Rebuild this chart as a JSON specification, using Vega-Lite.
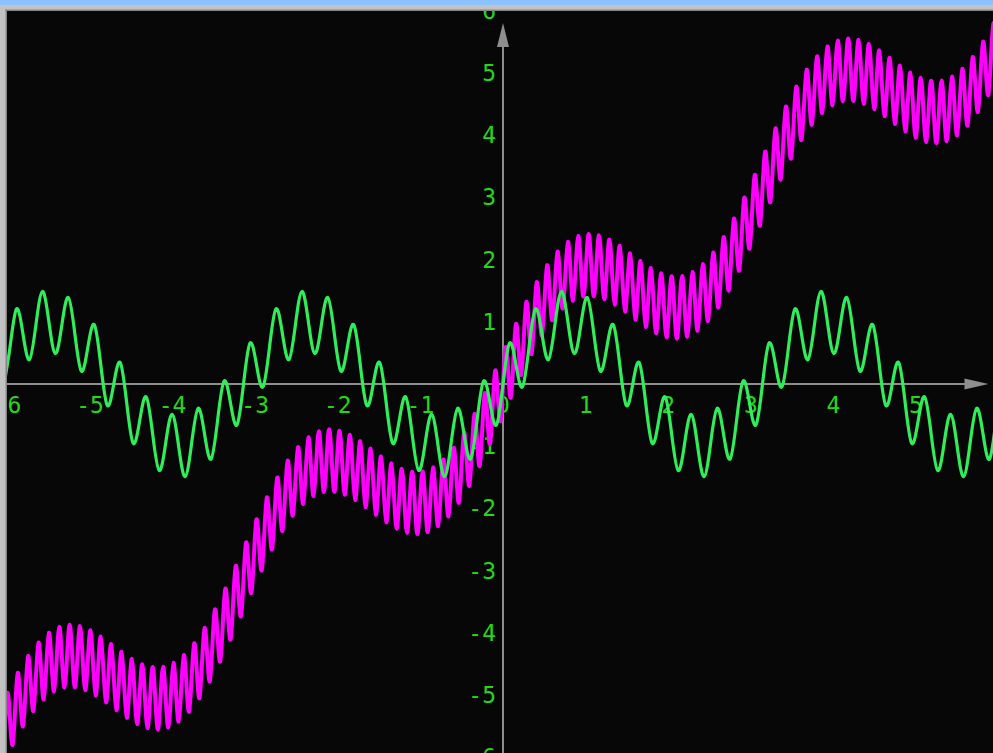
{
"$schema": "https://vega.github.io/schema/vega-lite/v6.json",
"width": 986,
"height": 742,
"autosize": "none",
"padding": {"left": 7, "top": 11, "right": 0, "bottom": 0},
"background": "#c2c2c2",
"config": {"view": {"stroke": null, "fill": "#070707"}},
"datasets": {
"one": [{}],
"xt": [{"v":-6,"t":"-6"},{"v":-5,"t":"-5"},{"v":-4,"t":"-4"},{"v":-3,"t":"-3"},{"v":-2,"t":"-2"},{"v":-1,"t":"-1"},{"v":0,"t":"0"},{"v":1,"t":"1"},{"v":2,"t":"2"},{"v":3,"t":"3"},{"v":4,"t":"4"},{"v":5,"t":"5"}],
"yt": [{"v":6,"t":"6"},{"v":5,"t":"5"},{"v":4,"t":"4"},{"v":3,"t":"3"},{"v":2,"t":"2"},{"v":1,"t":"1"},{"v":-1,"t":"-1"},{"v":-2,"t":"-2"},{"v":-3,"t":"-3"},{"v":-4,"t":"-4"},{"v":-5,"t":"-5"},{"v":-6,"t":"-6"}],
"grn": [
{"x":-6.0476,"y":-0.046},{"x":-5.969,"y":0.588},{"x":-5.8905,"y":1.207},{"x":-5.8119,"y":0.809},{"x":-5.7334,"y":0.391},{"x":-5.6549,"y":0.951},{"x":-5.5763,"y":1.488},{"x":-5.4978,"y":1},{"x":-5.4192,"y":0.488},{"x":-5.3407,"y":0.951},{"x":-5.2622,"y":1.391},{"x":-5.1836,"y":0.809},{"x":-5.1051,"y":0.207},{"x":-5.0265,"y":0.588},{"x":-4.948,"y":0.954},{"x":-4.8695,"y":0.309},{"x":-4.7909,"y":-0.344},{"x":-4.7124,"y":0},{"x":-4.6338,"y":0.344},{"x":-4.5553,"y":-0.309},{"x":-4.4768,"y":-0.954},{"x":-4.3982,"y":-0.588},{"x":-4.3197,"y":-0.207},{"x":-4.2412,"y":-0.809},{"x":-4.1626,"y":-1.391},{"x":-4.0841,"y":-0.951},{"x":-4.0055,"y":-0.488},{"x":-3.927,"y":-1},{"x":-3.8485,"y":-1.488},{"x":-3.7699,"y":-0.951},{"x":-3.6914,"y":-0.391},{"x":-3.6128,"y":-0.809},{"x":-3.5343,"y":-1.207},{"x":-3.4558,"y":-0.588},{"x":-3.3772,"y":0.046},{"x":-3.2987,"y":-0.309},{"x":-3.2201,"y":-0.656},{"x":-3.1416,"y":0},
{"x":-3.0631,"y":0.656},{"x":-2.9845,"y":0.309},{"x":-2.906,"y":-0.046},{"x":-2.8274,"y":0.588},{"x":-2.7489,"y":1.207},{"x":-2.6704,"y":0.809},{"x":-2.5918,"y":0.391},{"x":-2.5133,"y":0.951},{"x":-2.4347,"y":1.488},{"x":-2.3562,"y":1},{"x":-2.2777,"y":0.488},{"x":-2.1991,"y":0.951},{"x":-2.1206,"y":1.391},{"x":-2.042,"y":0.809},{"x":-1.9635,"y":0.207},{"x":-1.885,"y":0.588},{"x":-1.8064,"y":0.954},{"x":-1.7279,"y":0.309},{"x":-1.6493,"y":-0.344},{"x":-1.5708,"y":0},{"x":-1.4923,"y":0.344},{"x":-1.4137,"y":-0.309},{"x":-1.3352,"y":-0.954},{"x":-1.2566,"y":-0.588},{"x":-1.1781,"y":-0.207},{"x":-1.0996,"y":-0.809},{"x":-1.021,"y":-1.391},{"x":-0.9425,"y":-0.951},{"x":-0.8639,"y":-0.488},{"x":-0.7854,"y":-1},{"x":-0.7069,"y":-1.488},{"x":-0.6283,"y":-0.951},{"x":-0.5498,"y":-0.391},{"x":-0.4712,"y":-0.809},{"x":-0.3927,"y":-1.207},{"x":-0.3142,"y":-0.588},{"x":-0.2356,"y":0.046},{"x":-0.1571,"y":-0.309},{"x":-0.0785,"y":-0.656},
{"x":0,"y":0},{"x":0.0785,"y":0.656},{"x":0.1571,"y":0.309},{"x":0.2356,"y":-0.046},{"x":0.3142,"y":0.588},{"x":0.3927,"y":1.207},{"x":0.4712,"y":0.809},{"x":0.5498,"y":0.391},{"x":0.6283,"y":0.951},{"x":0.7069,"y":1.488},{"x":0.7854,"y":1},{"x":0.8639,"y":0.488},{"x":0.9425,"y":0.951},{"x":1.021,"y":1.391},{"x":1.0996,"y":0.809},{"x":1.1781,"y":0.207},{"x":1.2566,"y":0.588},{"x":1.3352,"y":0.954},{"x":1.4137,"y":0.309},{"x":1.4923,"y":-0.344},{"x":1.5708,"y":0},{"x":1.6493,"y":0.344},{"x":1.7279,"y":-0.309},{"x":1.8064,"y":-0.954},{"x":1.885,"y":-0.588},{"x":1.9635,"y":-0.207},{"x":2.042,"y":-0.809},{"x":2.1206,"y":-1.391},{"x":2.1991,"y":-0.951},{"x":2.2777,"y":-0.488},{"x":2.3562,"y":-1},{"x":2.4347,"y":-1.488},{"x":2.5133,"y":-0.951},{"x":2.5918,"y":-0.391},{"x":2.6704,"y":-0.809},{"x":2.7489,"y":-1.207},{"x":2.8274,"y":-0.588},{"x":2.906,"y":0.046},{"x":2.9845,"y":-0.309},{"x":3.0631,"y":-0.656},
{"x":3.1416,"y":0},{"x":3.2201,"y":0.656},{"x":3.2987,"y":0.309},{"x":3.3772,"y":-0.046},{"x":3.4558,"y":0.588},{"x":3.5343,"y":1.207},{"x":3.6128,"y":0.809},{"x":3.6914,"y":0.391},{"x":3.7699,"y":0.951},{"x":3.8485,"y":1.488},{"x":3.927,"y":1},{"x":4.0055,"y":0.488},{"x":4.0841,"y":0.951},{"x":4.1626,"y":1.391},{"x":4.2412,"y":0.809},{"x":4.3197,"y":0.207},{"x":4.3982,"y":0.588},{"x":4.4768,"y":0.954},{"x":4.5553,"y":0.309},{"x":4.6338,"y":-0.344},{"x":4.7124,"y":0},{"x":4.7909,"y":0.344},{"x":4.8695,"y":-0.309},{"x":4.948,"y":-0.954},{"x":5.0265,"y":-0.588},{"x":5.1051,"y":-0.207},{"x":5.1836,"y":-0.809},{"x":5.2622,"y":-1.391},{"x":5.3407,"y":-0.951},{"x":5.4192,"y":-0.488},{"x":5.4978,"y":-1},{"x":5.5763,"y":-1.488},{"x":5.6549,"y":-0.951},{"x":5.7334,"y":-0.391},{"x":5.8119,"y":-0.809},{"x":5.8905,"y":-1.207},{"x":5.969,"y":-0.588},{"x":6.0476,"y":0.046}
],
"mag": [
{"x":-6.0319,"y":-5.551},{"x":-6.0004,"y":-4.965},{"x":-5.969,"y":-5.382},{"x":-5.9376,"y":-5.801},{"x":-5.9062,"y":-5.222},{"x":-5.8748,"y":-4.646},{"x":-5.8434,"y":-5.073},{"x":-5.8119,"y":-5.503},{"x":-5.7805,"y":-4.937},{"x":-5.7491,"y":-4.373},{"x":-5.7177,"y":-4.813},{"x":-5.6863,"y":-5.257},{"x":-5.6549,"y":-4.704},{"x":-5.6235,"y":-4.155},{"x":-5.592,"y":-4.61},{"x":-5.5606,"y":-5.069},{"x":-5.5292,"y":-4.532},{"x":-5.4978,"y":-3.998},{"x":-5.4664,"y":-4.469},{"x":-5.435,"y":-4.943},{"x":-5.4035,"y":-4.422},{"x":-5.3721,"y":-3.904},{"x":-5.3407,"y":-4.39},{"x":-5.3093,"y":-4.88},{"x":-5.2779,"y":-4.374},{"x":-5.2465,"y":-3.871},{"x":-5.215,"y":-4.371},{"x":-5.1836,"y":-4.875},{"x":-5.1522,"y":-4.382},{"x":-5.1208,"y":-3.892},{"x":-5.0894,"y":-4.405},{"x":-5.058,"y":-4.921},{"x":-5.0265,"y":-4.439},{"x":-4.9951,"y":-3.96},{"x":-4.9637,"y":-4.482},{"x":-4.9323,"y":-5.007},{"x":-4.9009,"y":-4.533},{"x":-4.8695,"y":-4.061},{"x":-4.8381,"y":-4.59},{"x":-4.8066,"y":-5.12},{"x":-4.7752,"y":-4.65},{"x":-4.7438,"y":-4.181},{"x":-4.7124,"y":-4.713},{"x":-4.681,"y":-5.244},{"x":-4.6496,"y":-4.775},{"x":-4.6181,"y":-4.306},{"x":-4.5867,"y":-4.836},{"x":-4.5553,"y":-5.365},{"x":-4.5239,"y":-4.892},{"x":-4.4925,"y":-4.419},{"x":-4.4611,"y":-4.943},{"x":-4.4297,"y":-5.466},{"x":-4.3982,"y":-4.986},{"x":-4.3668,"y":-4.505},{"x":-4.3354,"y":-5.02},{"x":-4.304,"y":-5.533},{"x":-4.2726,"y":-5.044},{"x":-4.2412,"y":-4.551},{"x":-4.2097,"y":-5.054},{"x":-4.1783,"y":-5.555},{"x":-4.1469,"y":-5.052},{"x":-4.1155,"y":-4.546},{"x":-4.0841,"y":-5.036},{"x":-4.0527,"y":-5.522},{"x":-4.0212,"y":-5.004},{"x":-3.9898,"y":-4.482},{"x":-3.9584,"y":-4.957},{"x":-3.927,"y":-5.427},{"x":-3.8956,"y":-4.894},{"x":-3.8642,"y":-4.357},{"x":-3.8328,"y":-4.816},{"x":-3.8013,"y":-5.27},{"x":-3.7699,"y":-4.721},{"x":-3.7385,"y":-4.169},{"x":-3.7071,"y":-4.612},{"x":-3.6757,"y":-5.052},{"x":-3.6443,"y":-4.489},{"x":-3.6128,"y":-3.922},{"x":-3.5814,"y":-4.352},{"x":-3.55,"y":-4.779},{"x":-3.5186,"y":-4.204},{"x":-3.4872,"y":-3.625},{"x":-3.4558,"y":-4.044},{"x":-3.4243,"y":-4.461},{"x":-3.3929,"y":-3.875},{"x":-3.3615,"y":-3.288},{"x":-3.3301,"y":-3.699},{"x":-3.2987,"y":-4.108},{"x":-3.2673,"y":-3.516},{"x":-3.2358,"y":-2.924},{"x":-3.2044,"y":-3.33},{"x":-3.173,"y":-3.736},{"x":-3.1416,"y":-3.142},
{"x":-3.1102,"y":-2.547},{"x":-3.0788,"y":-2.954},{"x":-3.0473,"y":-3.36},{"x":-3.0159,"y":-2.767},{"x":-2.9845,"y":-2.176},{"x":-2.9531,"y":-2.585},{"x":-2.9217,"y":-2.996},{"x":-2.8903,"y":-2.409},{"x":-2.8588,"y":-1.823},{"x":-2.8274,"y":-2.24},{"x":-2.796,"y":-2.659},{"x":-2.7646,"y":-2.08},{"x":-2.7332,"y":-1.504},{"x":-2.7018,"y":-1.931},{"x":-2.6704,"y":-2.361},{"x":-2.6389,"y":-1.795},{"x":-2.6075,"y":-1.231},{"x":-2.5761,"y":-1.671},{"x":-2.5447,"y":-2.115},{"x":-2.5133,"y":-1.562},{"x":-2.4819,"y":-1.013},{"x":-2.4504,"y":-1.468},{"x":-2.419,"y":-1.927},{"x":-2.3876,"y":-1.39},{"x":-2.3562,"y":-0.856},{"x":-2.3248,"y":-1.327},{"x":-2.2934,"y":-1.801},{"x":-2.2619,"y":-1.28},{"x":-2.2305,"y":-0.762},{"x":-2.1991,"y":-1.248},{"x":-2.1677,"y":-1.738},{"x":-2.1363,"y":-1.232},{"x":-2.1049,"y":-0.729},{"x":-2.0735,"y":-1.229},{"x":-2.042,"y":-1.733},{"x":-2.0106,"y":-1.24},{"x":-1.9792,"y":-0.75},{"x":-1.9478,"y":-1.263},{"x":-1.9164,"y":-1.779},{"x":-1.885,"y":-1.297},{"x":-1.8535,"y":-0.818},{"x":-1.8221,"y":-1.34},{"x":-1.7907,"y":-1.865},{"x":-1.7593,"y":-1.391},{"x":-1.7279,"y":-0.919},{"x":-1.6965,"y":-1.448},{"x":-1.665,"y":-1.978},{"x":-1.6336,"y":-1.508},{"x":-1.6022,"y":-1.039},{"x":-1.5708,"y":-1.571},{"x":-1.5394,"y":-2.102},{"x":-1.508,"y":-1.633},{"x":-1.4765,"y":-1.164},{"x":-1.4451,"y":-1.694},{"x":-1.4137,"y":-2.223},{"x":-1.3823,"y":-1.75},{"x":-1.3509,"y":-1.277},{"x":-1.3195,"y":-1.801},{"x":-1.2881,"y":-2.324},{"x":-1.2566,"y":-1.844},{"x":-1.2252,"y":-1.363},{"x":-1.1938,"y":-1.878},{"x":-1.1624,"y":-2.391},{"x":-1.131,"y":-1.902},{"x":-1.0996,"y":-1.409},{"x":-1.0681,"y":-1.912},{"x":-1.0367,"y":-2.413},{"x":-1.0053,"y":-1.91},{"x":-0.9739,"y":-1.404},{"x":-0.9425,"y":-1.894},{"x":-0.9111,"y":-2.38},{"x":-0.8796,"y":-1.862},{"x":-0.8482,"y":-1.34},{"x":-0.8168,"y":-1.815},{"x":-0.7854,"y":-2.285},{"x":-0.754,"y":-1.752},{"x":-0.7226,"y":-1.215},{"x":-0.6912,"y":-1.674},{"x":-0.6597,"y":-2.128},{"x":-0.6283,"y":-1.579},{"x":-0.5969,"y":-1.027},{"x":-0.5655,"y":-1.47},{"x":-0.5341,"y":-1.91},{"x":-0.5027,"y":-1.347},{"x":-0.4712,"y":-0.78},{"x":-0.4398,"y":-1.21},{"x":-0.4084,"y":-1.637},{"x":-0.377,"y":-1.062},{"x":-0.3456,"y":-0.483},{"x":-0.3142,"y":-0.902},{"x":-0.2827,"y":-1.319},{"x":-0.2513,"y":-0.733},{"x":-0.2199,"y":-0.146},{"x":-0.1885,"y":-0.557},{"x":-0.1571,"y":-0.966},{"x":-0.1257,"y":-0.374},{"x":-0.0942,"y":0.218},{"x":-0.0628,"y":-0.188},{"x":-0.0314,"y":-0.594},
{"x":0,"y":0},{"x":0.0314,"y":0.594},{"x":0.0628,"y":0.188},{"x":0.0942,"y":-0.218},{"x":0.1257,"y":0.374},{"x":0.1571,"y":0.966},{"x":0.1885,"y":0.557},{"x":0.2199,"y":0.146},{"x":0.2513,"y":0.733},{"x":0.2827,"y":1.319},{"x":0.3142,"y":0.902},{"x":0.3456,"y":0.483},{"x":0.377,"y":1.062},{"x":0.4084,"y":1.637},{"x":0.4398,"y":1.21},{"x":0.4712,"y":0.78},{"x":0.5027,"y":1.347},{"x":0.5341,"y":1.91},{"x":0.5655,"y":1.47},{"x":0.5969,"y":1.027},{"x":0.6283,"y":1.579},{"x":0.6597,"y":2.128},{"x":0.6912,"y":1.674},{"x":0.7226,"y":1.215},{"x":0.754,"y":1.752},{"x":0.7854,"y":2.285},{"x":0.8168,"y":1.815},{"x":0.8482,"y":1.34},{"x":0.8796,"y":1.862},{"x":0.9111,"y":2.38},{"x":0.9425,"y":1.894},{"x":0.9739,"y":1.404},{"x":1.0053,"y":1.91},{"x":1.0367,"y":2.413},{"x":1.0681,"y":1.912},{"x":1.0996,"y":1.409},{"x":1.131,"y":1.902},{"x":1.1624,"y":2.391},{"x":1.1938,"y":1.878},{"x":1.2252,"y":1.363},{"x":1.2566,"y":1.844},{"x":1.2881,"y":2.324},{"x":1.3195,"y":1.801},{"x":1.3509,"y":1.277},{"x":1.3823,"y":1.75},{"x":1.4137,"y":2.223},{"x":1.4451,"y":1.694},{"x":1.4765,"y":1.164},{"x":1.508,"y":1.633},{"x":1.5394,"y":2.102},{"x":1.5708,"y":1.571},{"x":1.6022,"y":1.039},{"x":1.6336,"y":1.508},{"x":1.665,"y":1.978},{"x":1.6965,"y":1.448},{"x":1.7279,"y":0.919},{"x":1.7593,"y":1.391},{"x":1.7907,"y":1.865},{"x":1.8221,"y":1.34},{"x":1.8535,"y":0.818},{"x":1.885,"y":1.297},{"x":1.9164,"y":1.779},{"x":1.9478,"y":1.263},{"x":1.9792,"y":0.75},{"x":2.0106,"y":1.24},{"x":2.042,"y":1.733},{"x":2.0735,"y":1.229},{"x":2.1049,"y":0.729},{"x":2.1363,"y":1.232},{"x":2.1677,"y":1.738},{"x":2.1991,"y":1.248},{"x":2.2305,"y":0.762},{"x":2.2619,"y":1.28},{"x":2.2934,"y":1.801},{"x":2.3248,"y":1.327},{"x":2.3562,"y":0.856},{"x":2.3876,"y":1.39},{"x":2.419,"y":1.927},{"x":2.4504,"y":1.468},{"x":2.4819,"y":1.013},{"x":2.5133,"y":1.562},{"x":2.5447,"y":2.115},{"x":2.5761,"y":1.671},{"x":2.6075,"y":1.231},{"x":2.6389,"y":1.795},{"x":2.6704,"y":2.361},{"x":2.7018,"y":1.931},{"x":2.7332,"y":1.504},{"x":2.7646,"y":2.08},{"x":2.796,"y":2.659},{"x":2.8274,"y":2.24},{"x":2.8588,"y":1.823},{"x":2.8903,"y":2.409},{"x":2.9217,"y":2.996},{"x":2.9531,"y":2.585},{"x":2.9845,"y":2.176},{"x":3.0159,"y":2.767},{"x":3.0473,"y":3.36},{"x":3.0788,"y":2.954},{"x":3.1102,"y":2.547},
{"x":3.1416,"y":3.142},{"x":3.173,"y":3.736},{"x":3.2044,"y":3.33},{"x":3.2358,"y":2.924},{"x":3.2673,"y":3.516},{"x":3.2987,"y":4.108},{"x":3.3301,"y":3.699},{"x":3.3615,"y":3.288},{"x":3.3929,"y":3.875},{"x":3.4243,"y":4.461},{"x":3.4558,"y":4.044},{"x":3.4872,"y":3.625},{"x":3.5186,"y":4.204},{"x":3.55,"y":4.779},{"x":3.5814,"y":4.352},{"x":3.6128,"y":3.922},{"x":3.6443,"y":4.489},{"x":3.6757,"y":5.052},{"x":3.7071,"y":4.612},{"x":3.7385,"y":4.169},{"x":3.7699,"y":4.721},{"x":3.8013,"y":5.27},{"x":3.8328,"y":4.816},{"x":3.8642,"y":4.357},{"x":3.8956,"y":4.894},{"x":3.927,"y":5.427},{"x":3.9584,"y":4.957},{"x":3.9898,"y":4.482},{"x":4.0212,"y":5.004},{"x":4.0527,"y":5.522},{"x":4.0841,"y":5.036},{"x":4.1155,"y":4.546},{"x":4.1469,"y":5.052},{"x":4.1783,"y":5.555},{"x":4.2097,"y":5.054},{"x":4.2412,"y":4.551},{"x":4.2726,"y":5.044},{"x":4.304,"y":5.533},{"x":4.3354,"y":5.02},{"x":4.3668,"y":4.505},{"x":4.3982,"y":4.986},{"x":4.4297,"y":5.466},{"x":4.4611,"y":4.943},{"x":4.4925,"y":4.419},{"x":4.5239,"y":4.892},{"x":4.5553,"y":5.365},{"x":4.5867,"y":4.836},{"x":4.6181,"y":4.306},{"x":4.6496,"y":4.775},{"x":4.681,"y":5.244},{"x":4.7124,"y":4.713},{"x":4.7438,"y":4.181},{"x":4.7752,"y":4.65},{"x":4.8066,"y":5.12},{"x":4.8381,"y":4.59},{"x":4.8695,"y":4.061},{"x":4.9009,"y":4.533},{"x":4.9323,"y":5.007},{"x":4.9637,"y":4.482},{"x":4.9951,"y":3.96},{"x":5.0265,"y":4.439},{"x":5.058,"y":4.921},{"x":5.0894,"y":4.405},{"x":5.1208,"y":3.892},{"x":5.1522,"y":4.382},{"x":5.1836,"y":4.875},{"x":5.215,"y":4.371},{"x":5.2465,"y":3.871},{"x":5.2779,"y":4.374},{"x":5.3093,"y":4.88},{"x":5.3407,"y":4.39},{"x":5.3721,"y":3.904},{"x":5.4035,"y":4.422},{"x":5.435,"y":4.943},{"x":5.4664,"y":4.469},{"x":5.4978,"y":3.998},{"x":5.5292,"y":4.532},{"x":5.5606,"y":5.069},{"x":5.592,"y":4.61},{"x":5.6235,"y":4.155},{"x":5.6549,"y":4.704},{"x":5.6863,"y":5.257},{"x":5.7177,"y":4.813},{"x":5.7491,"y":4.373},{"x":5.7805,"y":4.937},{"x":5.8119,"y":5.503},{"x":5.8434,"y":5.073},{"x":5.8748,"y":4.646},{"x":5.9062,"y":5.222},{"x":5.9376,"y":5.801},{"x":5.969,"y":5.382},{"x":6.0004,"y":4.965},{"x":6.0319,"y":5.551}
]
},
"layer": [
{"data": {"name": "one"},
 "mark": {"type": "rect", "color": "#8cc2ff"},
 "encoding": {
  "x": {"datum": -6.3, "type": "quantitative", "scale": {"domain": [-6.005, 5.932], "nice": false, "zero": false}, "axis": null},
  "x2": {"datum": 6.2},
  "y": {"datum": 6.4, "type": "quantitative", "scale": {"domain": [-5.932, 5.997], "nice": false, "zero": false}, "axis": null},
  "y2": {"datum": 6.093}}},
{"data": {"name": "one"},
 "mark": {"type": "rect", "color": "#858585"},
 "encoding": {
  "x": {"datum": -6.023, "type": "quantitative", "scale": {"domain": [-6.005, 5.932], "nice": false, "zero": false}, "axis": null},
  "x2": {"datum": 6.2},
  "y": {"datum": 6.021, "type": "quantitative", "scale": {"domain": [-5.932, 5.997], "nice": false, "zero": false}, "axis": null},
  "y2": {"datum": 5.997}}},
{"data": {"name": "one"},
 "mark": {"type": "rect", "color": "#858585"},
 "encoding": {
  "x": {"datum": -6.023, "type": "quantitative", "scale": {"domain": [-6.005, 5.932], "nice": false, "zero": false}, "axis": null},
  "x2": {"datum": -6.005},
  "y": {"datum": 6.021, "type": "quantitative", "scale": {"domain": [-5.932, 5.997], "nice": false, "zero": false}, "axis": null},
  "y2": {"datum": -6.2}}},
{"data": {"name": "one"},
 "mark": {"type": "rule", "color": "#8e8e8e", "strokeWidth": 2, "clip": true},
 "encoding": {
  "x": {"datum": -6.2, "type": "quantitative", "scale": {"domain": [-6.005, 5.932], "nice": false, "zero": false}, "axis": null},
  "x2": {"datum": 5.65},
  "y": {"datum": 0, "type": "quantitative", "scale": {"domain": [-5.932, 5.997], "nice": false, "zero": false}, "axis": null}}},
{"data": {"name": "one"},
 "mark": {"type": "rule", "color": "#8e8e8e", "strokeWidth": 2, "clip": true},
 "encoding": {
  "x": {"datum": 0, "type": "quantitative", "scale": {"domain": [-6.005, 5.932], "nice": false, "zero": false}, "axis": null},
  "y": {"datum": -6.2, "type": "quantitative", "scale": {"domain": [-5.932, 5.997], "nice": false, "zero": false}, "axis": null},
  "y2": {"datum": 5.5}}},
{"data": {"name": "one"},
 "mark": {"type": "point", "shape": "M0,-1L0.5,1L-0.5,1Z", "filled": true, "size": 576, "color": "#8e8e8e", "opacity": 1},
 "encoding": {
  "x": {"datum": 0, "type": "quantitative", "scale": {"domain": [-6.005, 5.932], "nice": false, "zero": false}, "axis": null},
  "y": {"datum": 5.611, "type": "quantitative", "scale": {"domain": [-5.932, 5.997], "nice": false, "zero": false}, "axis": null}}},
{"data": {"name": "one"},
 "mark": {"type": "point", "shape": "M1,0L-1,-0.46L-1,0.46Z", "filled": true, "size": 576, "color": "#8e8e8e", "opacity": 1},
 "encoding": {
  "x": {"datum": 5.732, "type": "quantitative", "scale": {"domain": [-6.005, 5.932], "nice": false, "zero": false}, "axis": null},
  "y": {"datum": 0, "type": "quantitative", "scale": {"domain": [-5.932, 5.997], "nice": false, "zero": false}, "axis": null}}},
{"data": {"name": "xt"},
 "mark": {"type": "text", "font": "DejaVu Sans Mono", "fontSize": 23, "color": "#22d916", "align": "center", "baseline": "alphabetic", "dy": 29, "clip": true},
 "encoding": {
  "x": {"field": "v", "type": "quantitative", "scale": {"domain": [-6.005, 5.932], "nice": false, "zero": false}, "axis": null},
  "y": {"datum": 0, "type": "quantitative", "scale": {"domain": [-5.932, 5.997], "nice": false, "zero": false}, "axis": null},
  "text": {"field": "t"}}},
{"data": {"name": "yt"},
 "mark": {"type": "text", "font": "DejaVu Sans Mono", "fontSize": 23, "color": "#22d916", "align": "right", "baseline": "alphabetic", "dx": -7, "dy": 8, "clip": true},
 "encoding": {
  "x": {"datum": 0, "type": "quantitative", "scale": {"domain": [-6.005, 5.932], "nice": false, "zero": false}, "axis": null},
  "y": {"field": "v", "type": "quantitative", "scale": {"domain": [-5.932, 5.997], "nice": false, "zero": false}, "axis": null},
  "text": {"field": "t"}}},
{"data": {"name": "mag"},
 "mark": {"type": "line", "color": "#ff00ff", "strokeWidth": 4, "interpolate": "natural", "clip": true},
 "encoding": {
  "x": {"field": "x", "type": "quantitative", "scale": {"domain": [-6.005, 5.932], "nice": false, "zero": false}, "axis": null},
  "y": {"field": "y", "type": "quantitative", "scale": {"domain": [-5.932, 5.997], "nice": false, "zero": false}, "axis": null}}},
{"data": {"name": "grn"},
 "mark": {"type": "line", "color": "#30ee5a", "strokeWidth": 3.2, "interpolate": "natural", "clip": true},
 "encoding": {
  "x": {"field": "x", "type": "quantitative", "scale": {"domain": [-6.005, 5.932], "nice": false, "zero": false}, "axis": null},
  "y": {"field": "y", "type": "quantitative", "scale": {"domain": [-5.932, 5.997], "nice": false, "zero": false}, "axis": null}}}
]
}
